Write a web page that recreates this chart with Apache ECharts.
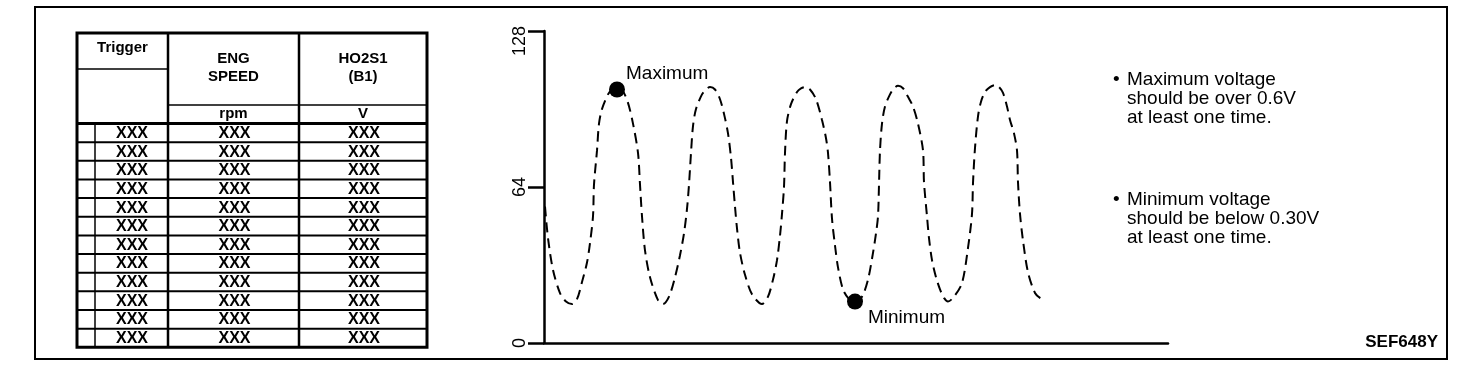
<!DOCTYPE html>
<html>
<head>
<meta charset="utf-8">
<script src="https://cdn.jsdelivr.net/npm/echarts@6/dist/echarts.min.js"></script>
<style>
html,body{margin:0;padding:0;background:#fff;}
#chart{width:1472px;height:374px;}
</style>
</head>
<body>
<div id="chart"></div>
<script>
// ---- data ----
const headerTrigger = 'Trigger';
const headerCols = ['ENG\nSPEED', 'HO2S1\n(B1)'];
const unitCols = ['rpm', 'V'];
const rowTrigger = ['XXX','XXX','XXX','XXX','XXX','XXX','XXX','XXX','XXX','XXX','XXX','XXX'];
const rowSpeed   = ['XXX','XXX','XXX','XXX','XXX','XXX','XXX','XXX','XXX','XXX','XXX','XXX'];
const rowHO2S1   = ['XXX','XXX','XXX','XXX','XXX','XXX','XXX','XXX','XXX','XXX','XXX','XXX'];

const yTicks = [0, 64, 128];

// wave: time position and signal value
const waveT = [
  1,4,9,16,22,28,
  33,38,43,46,49,50,53,55,58,64,68,73,
  78,84,89,94,96,98,101,106,114,119,
  125,131,136,140,143,145,147,149,152,158,162,166,
  171,176,180,184,187,189,191,193,196,201,208,218,
  224,229,233,236,238,240,241,243,247,253,257,261,
  266,272,278,282,284,286,288,291,294,299,305,311,
  318,324,329,332,334,335,336,338,341,346,350,354,
  359,364,369,374,379,380,383,385,388,392,396,400,404,
  410,418,424,428,429,431,434,437,441,446,451,
  455,459,463,466,470,473,474,476,479,484,491,496,501
];
const waveV = [
  56,43,30,20.5,17,16,
  18,25,33,41,52,65,79,90,96,102,104,105,
  104,98.5,90,78,65,52,38,27,17.6,16,
  19,27,36,45,55,65,78,89,96,102,104,105,
  104,100,94,86,76,66,56,47,37,28,20,16,
  19,26,34,44,53,64,78,91,98,103,104.5,105,
  104,100,91.5,84,78,66,51,40,31,22,18,16.5,
  19,26,37,45,52,65,79,90,97,102,104.5,105.5,
  104.5,101,97,90,79,66,52,43,34,27,22,18.5,17,
  19,24.6,39,53,65.6,80,93,99,103,105,105.8,
  105,102.6,97,91.5,86,79,66,53,42,29,20.5,18.5,17.6
];
const markNames = ['Maximum', 'Minimum'];
const markT = [73, 311];
const markV = [104, 17];

const notes = [
  ['Maximum voltage', 'should be over 0.6V', 'at least one time.'],
  ['Minimum voltage', 'should be below 0.30V', 'at least one time.']
];
const figureId = 'SEF648Y';

// ---- build ----
const FONT = "'Liberation Sans', Arial, Helvetica, sans-serif";
const chart = echarts.init(document.getElementById('chart'), null, {renderer: 'canvas'});

const g = [];
function hline(x1, x2, y, w) { g.push({type:'line', shape:{x1:x1, y1:y, x2:x2, y2:y}, style:{stroke:'#000', lineWidth:w}, silent:true}); }
function vline(x, y1, y2, w) { g.push({type:'line', shape:{x1:x, y1:y1, x2:x, y2:y2}, style:{stroke:'#000', lineWidth:w}, silent:true}); }
function txt(s, x, y, size, weight, align, lh) {
  g.push({type:'text', silent:true, style:{text:s, x:x, y:y, fill:'#000', fontFamily:FONT, fontSize:size, fontWeight:weight||'normal', align:align||'center', verticalAlign:'middle', lineHeight:lh||size}});
}

// outer frame
g.push({type:'rect', shape:{x:35, y:7, width:1412, height:352}, style:{fill:'none', stroke:'#000', lineWidth:2}, silent:true});

// table
const tL = 77, tR = 427, tT = 33, colA = 168, colB = 299, subX = 95;
const rowTop = 123.5, rowH = 18.65, nRows = rowTrigger.length;
const tB = rowTop + nRows * rowH;
g.push({type:'rect', shape:{x:tL, y:tT, width:tR - tL, height:tB - tT}, style:{fill:'none', stroke:'#000', lineWidth:3}, silent:true});
vline(colA, tT, tB, 2.5);
vline(colB, tT, tB, 2.5);
hline(tL, colA, 69, 1.5);
hline(colA, tR, 105, 1.5);
hline(tL, tR, rowTop, 3);
vline(subX, rowTop, tB, 1.5);
for (let k = 1; k < nRows; k++) hline(tL, tR, rowTop + k * rowH, 2);

const c1 = 132, c2 = (colA + colB) / 2, c3 = (colB + tR) / 2;
txt(headerTrigger, (tL + colA) / 2, 48, 15, 'bold');
txt(headerCols[0], c2, 68, 15, 'bold', 'center', 18);
txt(headerCols[1], c3, 68, 15, 'bold', 'center', 18);
txt(unitCols[0], c2, 114, 15, 'bold');
txt(unitCols[1], c3, 114, 15, 'bold');
for (let k = 0; k < nRows; k++) {
  const y = rowTop + k * rowH + 10;
  txt(rowTrigger[k], c1, y, 16, 'bold');
  txt(rowSpeed[k], c2 + 1, y, 16, 'bold');
  txt(rowHO2S1[k], c3 + 1, y, 16, 'bold');
}

// notes
const noteY = [79.5, 199.5];
notes.forEach(function (lines, i) {
  txt('\u2022', 1113, noteY[i], 19, 'normal', 'left');
  lines.forEach(function (s, j) { txt(s, 1127, noteY[i] + j * 19, 19, 'normal', 'left'); });
});
txt(figureId, 1438, 342, 17, 'bold', 'right');

const waveData = waveT.map(function (t, i) { return [t, waveV[i]]; });
const markData = markT.map(function (t, i) {
  return {
    value: [t, markV[i]],
    label: {
      show: true, formatter: markNames[i], position: 'right', distance: 1,
      offset: i === 0 ? [0, -16] : [4, 16],
      color: '#000', fontSize: 19, fontFamily: FONT
    }
  };
});

chart.setOption({
  animation: false,
  backgroundColor: '#fff',
  grid: {left: 544, top: 31, width: 624, height: 312, containLabel: false},
  xAxis: {
    type: 'value', min: 0, max: 624,
    axisLine: {show: true, onZero: false, lineStyle: {color: '#000', width: 2.5}},
    axisTick: {show: false}, axisLabel: {show: false}, splitLine: {show: false}
  },
  yAxis: {
    type: 'value', min: 0, max: 128, interval: 64,
    axisLine: {show: true, lineStyle: {color: '#000', width: 2.5}},
    axisTick: {show: true, inside: false, length: 16, lineStyle: {color: '#000', width: 2.5}},
    axisLabel: {show: true, rotate: 90, margin: 15, color: '#000', fontSize: 18, fontFamily: FONT,
      formatter: function (v) {
        if (yTicks.indexOf(v) < 0) return '';
        return v === 128 ? '{top|' + v + '}' : String(v);
      },
      rich: {top: {fontSize: 18, fontFamily: FONT, color: '#000', padding: [0, 20, 0, 0]}}
    },
    splitLine: {show: false}
  },
  series: [
    {
      type: 'line', data: waveData, showSymbol: false, smooth: 0.3,
      lineStyle: {color: '#000', width: 2, type: [10, 6]}, silent: true, z: 2
    },
    {
      type: 'scatter', data: markData, symbol: 'circle', symbolSize: 16,
      itemStyle: {color: '#000', opacity: 1}, silent: true, z: 3
    }
  ],
  graphic: g
});
</script>
</body>
</html>
